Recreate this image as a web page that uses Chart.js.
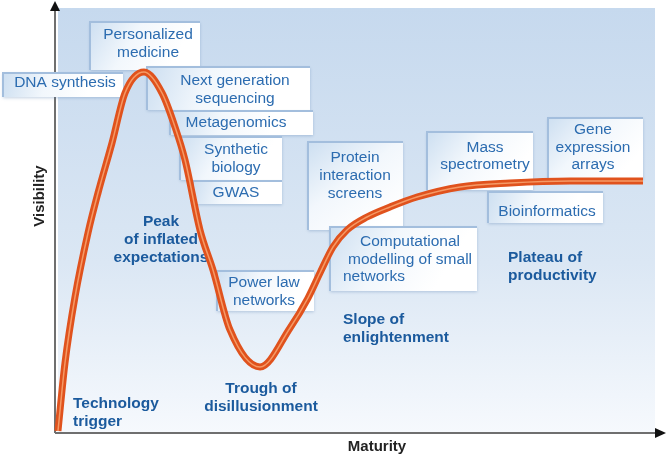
<!DOCTYPE html>
<html>
<head>
<meta charset="utf-8">
<script src="https://cdn.jsdelivr.net/npm/chart.js@4/dist/chart.umd.min.js"></script>
<style>
  html, body { margin: 0; background: #fff; }
</style>
</head>
<body>
<canvas id="hype" width="667" height="456"></canvas>
<script>
// Curva del hype cycle
const maturity   = [0.33, 1.5, 3.17, 5.34, 7.01, 9.35, 11.52, 14.69, 17.7, 19.87, 21.54, 24.04, 26.21, 29.05, 34.06, 39.07, 42.07, 44.07, 46.24, 48.58, 51.92, 55.76, 60.27, 67.45, 75.79, 85.81, 98.0];
const visibility = [0.47, 16.47, 32.0, 47.06, 56.47, 68.24, 80.0, 84.94, 80.0, 72.0, 64.24, 47.76, 38.35, 24.24, 15.53, 24.71, 31.76, 37.65, 43.76, 47.76, 50.82, 53.18, 55.53, 57.9, 58.82, 59.29, 59.29];

// Textos
const technologies = [
  ["Personalized", "medicine"],
  ["DNA synthesis"],
  ["Next generation", "sequencing"],
  ["Metagenomics"],
  ["Synthetic", "biology"],
  ["GWAS"],
  ["Protein", "interaction", "screens"],
  ["Mass", "spectrometry"],
  ["Gene", "expression", "arrays"],
  ["Bioinformatics"],
  ["Computational", "modelling of small", "networks"],
  ["Power law", "networks"],
];
const phases = [
  ["Technology", "trigger"],
  ["Peak", "of inflated", "expectations"],
  ["Trough of", "disillusionment"],
  ["Slope of", "enlightenment"],
  ["Plateau of", "productivity"],
];
const xTitle = "Maturity";
const yTitle = "Visibility";

// Posiciones de cajas: [x, y, w, h, textoX, primeraLinea, interlinea]
const techLayout = [
  [90, 22, 110, 48, 148, 35, 18],
  [3, 73, 120, 24, 65, 83, 18],
  [147, 67, 163, 43, 235, 81, 18],
  [170, 111, 143, 24, 236, 123, 18],
  [180, 137, 102, 43, 236, 150, 18],
  [193, 181, 89, 23, 236, 193, 18],
  [308, 142, 95, 88, 355, 158, 18],
  [427, 132, 106, 58, 485, 148, 17],
  [548, 118, 95, 62, 593, 130, 17.5],
  [488, 192, 115, 31, 547, 212, 18],
  [330, 227, 147, 64, 410, 242, 17.5],
  [217, 271, 97, 40, 264, 283, 17.5],
];
// [x, primeraLinea, align]
const phaseLayout = [
  [73, 404, "left"],
  [161, 222, "center"],
  [261, 389, "center"],
  [343, 320, "left"],
  [508, 258, "left"],
];

function drawBox(ctx, x, y, w, h) {
  const g = ctx.createLinearGradient(x, y, x + w * 0.7, y + h);
  g.addColorStop(0, "#cddff1");
  g.addColorStop(0.5, "#f2f7fc");
  g.addColorStop(1, "#ffffff");
  ctx.save();
  ctx.shadowColor = "rgba(80,120,170,0.35)";
  ctx.shadowBlur = 3;
  ctx.shadowOffsetY = 1;
  ctx.fillStyle = g;
  ctx.fillRect(x, y, w, h);
  ctx.restore();
  ctx.strokeStyle = "#a3bedd";
  ctx.lineWidth = 2;
  ctx.beginPath();
  ctx.moveTo(x, y + h);
  ctx.lineTo(x, y);
  ctx.lineTo(x + w, y);
  ctx.stroke();
}

const hypeBackground = {
  id: "hypeBackground",
  beforeDatasetsDraw(chart) {
    const { ctx, chartArea: a } = chart;
    ctx.save();
    // panel
    const bg = ctx.createLinearGradient(0, a.top, 0, a.bottom);
    bg.addColorStop(0, "#c6d9ee");
    bg.addColorStop(0.6, "#dbe7f4");
    bg.addColorStop(1, "#f6f9fd");
    ctx.fillStyle = bg;
    ctx.fillRect(a.left + 2, a.top, a.right - a.left - 2, a.bottom - a.top);

    // ejes con flechas
    ctx.strokeStyle = "#6f6f6f";
    ctx.fillStyle = "#111";
    ctx.lineWidth = 2;
    ctx.beginPath();
    ctx.moveTo(a.left - 1, a.bottom);
    ctx.lineTo(a.left - 1, 9);
    ctx.moveTo(a.left - 1, a.bottom);
    ctx.lineTo(656, a.bottom);
    ctx.stroke();
    ctx.beginPath();
    ctx.moveTo(a.left - 1, 1);
    ctx.lineTo(a.left - 6, 11);
    ctx.lineTo(a.left + 4, 11);
    ctx.closePath();
    ctx.fill();
    ctx.beginPath();
    ctx.moveTo(666, a.bottom);
    ctx.lineTo(655, a.bottom - 5);
    ctx.lineTo(655, a.bottom + 5);
    ctx.closePath();
    ctx.fill();

    // títulos de ejes
    ctx.fillStyle = "#222";
    ctx.font = "bold 15px 'Liberation Sans', Arial, sans-serif";
    ctx.textAlign = "center";
    ctx.textBaseline = "middle";
    ctx.fillText(xTitle, 377, 447);
    ctx.save();
    ctx.translate(40, 196);
    ctx.rotate(-Math.PI / 2);
    ctx.fillText(yTitle, 0, 0);
    ctx.restore();

    // cajas de tecnologías
    technologies.forEach((lines, i) => {
      const [x, y, w, h] = techLayout[i];
      drawBox(ctx, x, y, w, h);
    });
    ctx.font = "15.5px 'Liberation Sans', Arial, sans-serif";
    ctx.fillStyle = "#2c6cb0";
    technologies.forEach((lines, i) => {
      const [, , , , tx, ty, lh] = techLayout[i];
      lines.forEach((line, j) => {
        if (i === 10 && j === 2) {
          ctx.textAlign = "left";
          ctx.fillText(line, 343, ty + j * lh);
          ctx.textAlign = "center";
        } else {
          ctx.fillText(line, tx, ty + j * lh);
        }
      });
    });

    // fases
    ctx.font = "bold 15.5px 'Liberation Sans', Arial, sans-serif";
    ctx.fillStyle = "#1b5a9d";
    phases.forEach((lines, i) => {
      const [x, y, align] = phaseLayout[i];
      ctx.textAlign = align;
      lines.forEach((line, j) => ctx.fillText(line, x, y + j * 18));
    });
    ctx.restore();
  }
};

const points = maturity.map((m, i) => ({ x: m, y: visibility[i] }));

new Chart(document.getElementById("hype"), {
  type: "scatter",
  data: {
    datasets: [
      {
        data: points,
        showLine: true,
        borderColor: "#e0521d",
        borderWidth: 7,
        pointRadius: 0,
        cubicInterpolationMode: "monotone",
        clip: false,
        order: 2,
      },
      {
        data: points,
        showLine: true,
        borderColor: "#f59a66",
        borderWidth: 1.5,
        pointRadius: 0,
        cubicInterpolationMode: "monotone",
        clip: false,
        order: 1,
      },
    ],
  },
  options: {
    responsive: false,
    animation: false,
    devicePixelRatio: 1,
    layout: { padding: { left: 56, right: 12, top: 8, bottom: 23 } },
    scales: {
      x: { type: "linear", min: 0, max: 100, display: false },
      y: { type: "linear", min: 0, max: 100, display: false },
    },
    plugins: {
      legend: { display: false },
      tooltip: { enabled: false },
    },
  },
  plugins: [hypeBackground],
});
</script>
</body>
</html>
